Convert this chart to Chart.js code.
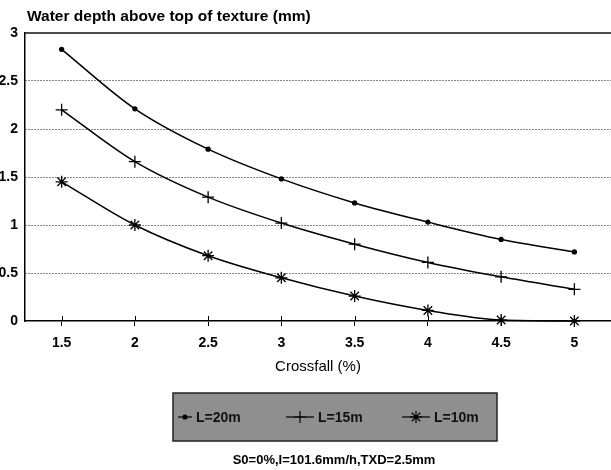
<!DOCTYPE html>
<html>
<head>
<meta charset="utf-8">
<script src="https://cdn.jsdelivr.net/npm/chart.js@4.4.0/dist/chart.umd.min.js"></script>
<style>
    html, body { margin: 0; padding: 0; background: #fff; }
    #wrap { position: relative; width: 611px; height: 470px; }
</style>
</head>
<body>
<div id="wrap"><canvas id="depthChart"></canvas></div>
<script>
// crossfall values (%) and tick labels
const crossfall = [1.5, 2, 2.5, 3, 3.5, 4, 4.5, 5];
const xTicks = [1.5, 2, 2.5, 3, 3.5, 4, 4.5, 5];
const yTicks = [0, 0.5, 1, 1.5, 2, 2.5, 3];

// water depth above top of texture (mm)
const depthL20 = [2.83, 2.21, 1.79, 1.48, 1.23, 1.03, 0.85, 0.72];
const depthL15 = [2.20, 1.66, 1.29, 1.02, 0.80, 0.61, 0.46, 0.33];
const depthL10 = [1.45, 1.00, 0.68, 0.45, 0.26, 0.11, 0.01, 0.00];

const seriesLabels = ['L=20m', 'L=15m', 'L=10m'];

const toPoints = vals => vals.map((v, i) => ({ x: crossfall[i], y: v }));

function makeSet(label, vals, style, radius) {
    return {
        label: label,
        data: toPoints(vals),
        borderColor: '#000',
        backgroundColor: '#000',
        borderWidth: 1.5,
        pointStyle: style,
        pointRadius: radius,
        pointBorderWidth: 1.3,
        pointBorderColor: '#000',
        pointBackgroundColor: '#000',
        cubicInterpolationMode: 'monotone',
        fill: false,
        clip: 8
    };
}

// Draws the title, top frame line, inner tick halves, legend box and footnote
const decorPlugin = {
    id: 'decor',
    afterDraw(chart) {
        const ctx = chart.ctx;
        const area = chart.chartArea;
        const xs = chart.scales.x;

        ctx.save();
        // top frame line
        ctx.strokeStyle = '#111';
        ctx.lineWidth = 1.5;
        ctx.beginPath();
        ctx.moveTo(area.left, area.top);
        ctx.lineTo(area.right, area.top);
        ctx.stroke();

        // x ticks cross the axis line: draw inner half
        ctx.lineWidth = 1;
        ctx.strokeStyle = '#000';
        xs.ticks.forEach(t => {
            const px = Math.round(xs.getPixelForValue(t.value)) + 0.5;
            ctx.beginPath();
            ctx.moveTo(px, area.bottom - 5);
            ctx.lineTo(px, area.bottom);
            ctx.stroke();
        });

        // chart title
        ctx.fillStyle = '#000';
        ctx.font = 'bold 15.5px "Liberation Sans", Arial, sans-serif';
        ctx.textAlign = 'left';
        ctx.textBaseline = 'alphabetic';
        ctx.fillText('Water depth above top of texture (mm)', 27, 21);

        // legend box
        const box = { left: 173, top: 393, right: 497, bottom: 441 };
        ctx.fillStyle = '#8f8f8f';
        ctx.fillRect(box.left, box.top, box.right - box.left, box.bottom - box.top);
        ctx.strokeStyle = '#222';
        ctx.lineWidth = 1.5;
        ctx.strokeRect(box.left, box.top, box.right - box.left, box.bottom - box.top);

        const entries = [
            { sx: 178, tx: 196 },
            { sx: 286, tx: 318 },
            { sx: 402, tx: 434 }
        ];
        const ly = 417;
        ctx.font = 'bold 14px "Liberation Sans", Arial, sans-serif';
        ctx.textBaseline = 'middle';
        chart.data.datasets.forEach((ds, i) => {
            const e = entries[i];
            const sw = e.tx - e.sx - 4;
            ctx.strokeStyle = '#000';
            ctx.fillStyle = '#000';
            ctx.lineWidth = 1.2;
            ctx.beginPath();
            ctx.moveTo(e.sx, ly);
            ctx.lineTo(e.sx + sw, ly);
            ctx.stroke();
            Chart.helpers.drawPoint(ctx, {
                pointStyle: ds.pointStyle,
                radius: ds.pointRadius,
                borderWidth: 1.2,
                rotation: 0
            }, e.sx + sw / 2, ly);
            ctx.fillStyle = '#111';
            ctx.fillText(ds.label, e.tx, ly + 1);
        });

        // footnote
        ctx.fillStyle = '#000';
        ctx.font = 'bold 13px "Liberation Sans", Arial, sans-serif';
        ctx.textAlign = 'center';
        ctx.textBaseline = 'middle';
        ctx.fillText('S0=0%,I=101.6mm/h,TXD=2.5mm', 334, 460);
        ctx.restore();
    }
};

const ctx = document.getElementById('depthChart').getContext('2d');
const depthChart = new Chart(ctx, {
    type: 'line',
    data: {
        datasets: [
            makeSet(seriesLabels[0], depthL20, 'circle', 2),
            makeSet(seriesLabels[1], depthL15, 'cross', 6),
            makeSet(seriesLabels[2], depthL10, 'star', 6)
        ]
    },
    options: {
        responsive: true,
        maintainAspectRatio: false,
        animation: false,
        layout: { autoPadding: false, padding: { top: 33, left: 0, right: 0, bottom: 0 } },
        plugins: {
            legend: { display: false },
            tooltip: { enabled: false }
        },
        scales: {
            x: {
                type: 'linear',
                min: 1.25,
                max: 5.25,
                afterFit: scale => {
                    scale.height = 149;
                    scale.paddingLeft = 0;
                    scale.paddingRight = 0;
                },
                afterBuildTicks: scale => { scale.ticks = xTicks.map(v => ({ value: v })); },
                grid: {
                    drawOnChartArea: false,
                    drawTicks: true,
                    tickLength: 5,
                    tickColor: '#000',
                    tickWidth: 1
                },
                border: { display: true, color: '#000', width: 1.5 },
                ticks: {
                    color: '#000',
                    padding: 9,
                    maxRotation: 0,
                    font: { family: '"Liberation Sans", Arial, sans-serif', size: 14, weight: 'bold' },
                    callback: v => String(v)
                },
                title: {
                    display: true,
                    text: 'Crossfall (%)',
                    color: '#000',
                    font: { family: '"Liberation Sans", Arial, sans-serif', size: 15 },
                    padding: { top: 0, bottom: 94 }
                }
            },
            y: {
                min: 0,
                max: 3,
                afterFit: scale => {
                    scale.width = 25;
                    scale.paddingTop = 0;
                    scale.paddingBottom = 0;
                },
                afterBuildTicks: scale => { scale.ticks = yTicks.map(v => ({ value: v })); },
                grid: {
                    drawTicks: false,
                    color: c => (c.tick && (c.tick.value === 0 || c.tick.value === 3)) ? 'rgba(0,0,0,0)' : '#111',
                    lineWidth: 1
                },
                border: { display: true, color: '#000', width: 1.5, dash: [1, 2] },
                ticks: {
                    color: '#000',
                    padding: 7,
                    font: { family: '"Liberation Sans", Arial, sans-serif', size: 14, weight: 'bold' },
                    callback: v => String(v)
                }
            }
        }
    },
    plugins: [decorPlugin]
});
</script>
</body>
</html>
